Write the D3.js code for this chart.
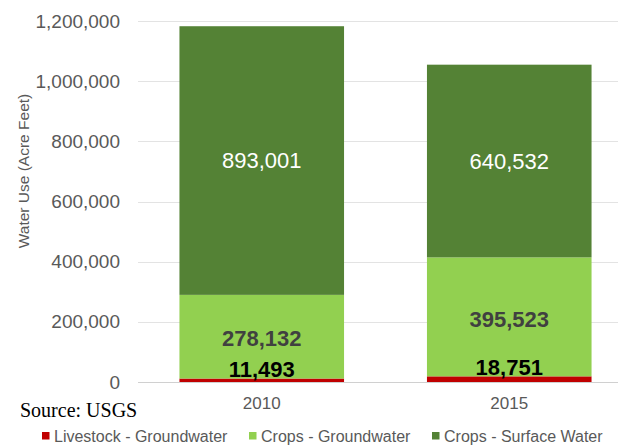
<!DOCTYPE html>
<html>
<head>
<meta charset="utf-8">
<script src="https://cdn.jsdelivr.net/npm/d3@7"></script>
<style>
  html, body { margin: 0; padding: 0; background: #fff; }
  svg { display: block; font-family: "Liberation Sans", Arial, sans-serif; }
</style>
</head>
<body>
<svg id="chart" width="618" height="447"></svg>
<script>
// data
const years = ['2010', '2015'];
const livestockGW = [11493, 18751];
const cropsGW = [278132, 395523];
const cropsSW = [893001, 640532];
const yTicks = [0, 200000, 400000, 600000, 800000, 1000000, 1200000];
const seriesNames = ['Livestock - Groundwater', 'Crops - Groundwater', 'Crops - Surface Water'];
const seriesColors = ['#C00000', '#92D050', '#548235'];

const width = 618, height = 447;
const svg = d3.select('#chart');

const rows = years.map((y, i) => ({
  year: y,
  livestock: livestockGW[i],
  cropsGW: cropsGW[i],
  cropsSW: cropsSW[i]
}));
const keys = ['livestock', 'cropsGW', 'cropsSW'];
const stacked = d3.stack().keys(keys)(rows);

const x = d3.scaleBand()
  .domain(years)
  .range([138, 633])
  .paddingInner(0.335)
  .paddingOuter(0.1675);

const y = d3.scaleLinear()
  .domain([0, 1200000])
  .range([382, 21]);

// gridlines
svg.append('g')
  .selectAll('line')
  .data(yTicks)
  .join('line')
  .attr('x1', 138)
  .attr('x2', width)
  .attr('y1', d => Math.round(y(d)) + 0.5)
  .attr('y2', d => Math.round(y(d)) + 0.5)
  .attr('stroke', d => d === 0 ? '#d0d0d0' : '#e3e3e3')
  .attr('stroke-width', 1.2);

// y tick labels
svg.append('g')
  .selectAll('text')
  .data(yTicks)
  .join('text')
  .attr('x', 120)
  .attr('y', d => y(d))
  .attr('dy', '0.35em')
  .attr('text-anchor', 'end')
  .attr('fill', '#595959')
  .style('font-size', '19px')
  .text(d => d3.format(',')(d));

// y axis title
svg.append('text')
  .attr('transform', 'translate(24,171) rotate(-90)')
  .attr('text-anchor', 'middle')
  .attr('dy', '0.35em')
  .attr('fill', '#595959')
  .style('font-size', '15.5px')
  .text('Water Use (Acre Feet)');

// bars
svg.append('g')
  .selectAll('g')
  .data(stacked)
  .join('g')
  .attr('fill', (d, i) => seriesColors[i])
  .selectAll('rect')
  .data(d => d)
  .join('rect')
  .attr('x', d => x(d.data.year))
  .attr('width', x.bandwidth())
  .attr('y', d => y(d[1]))
  .attr('height', d => y(d[0]) - y(d[1]));

// data labels: surface water (white, centred)
svg.append('g')
  .selectAll('text')
  .data(stacked[2])
  .join('text')
  .attr('x', d => x(d.data.year) + x.bandwidth() / 2)
  .attr('y', d => (y(d[0]) + y(d[1])) / 2)
  .attr('dy', '0.35em')
  .attr('text-anchor', 'middle')
  .attr('fill', '#ffffff')
  .style('font-size', '22px')
  .text(d => d3.format(',')(d.data.cropsSW));

// crops groundwater (dark grey bold)
svg.append('g')
  .selectAll('text')
  .data(stacked[1])
  .join('text')
  .attr('x', d => x(d.data.year) + x.bandwidth() / 2)
  .attr('y', d => (y(d[0]) + y(d[1])) / 2 + 2)
  .attr('dy', '0.35em')
  .attr('text-anchor', 'middle')
  .attr('fill', '#404040')
  .style('font-size', '22px')
  .style('font-weight', 'bold')
  .text(d => d3.format(',')(d.data.cropsGW));

// livestock (black bold, lifted above the thin red strip)
svg.append('g')
  .selectAll('text')
  .data(stacked[0])
  .join('text')
  .attr('x', d => x(d.data.year) + x.bandwidth() / 2)
  .attr('y', d => y(d[1]) - 9)
  .attr('dy', '0.35em')
  .attr('text-anchor', 'middle')
  .attr('fill', '#000000')
  .style('font-size', '22px')
  .style('font-weight', 'bold')
  .text(d => d3.format(',')(d.data.livestock));

// x labels
svg.append('g')
  .selectAll('text')
  .data(years)
  .join('text')
  .attr('x', d => x(d) + x.bandwidth() / 2)
  .attr('y', 409)
  .attr('text-anchor', 'middle')
  .attr('fill', '#595959')
  .style('font-size', '17px')
  .text(d => d);

// source note
svg.append('text')
  .attr('x', 20)
  .attr('y', 417)
  .attr('fill', '#000')
  .style('font-family', '"Liberation Serif", "Times New Roman", serif')
  .style('font-size', '20px')
  .text('Source: USGS');

// legend
const legendX = [42, 249, 432];
const legend = svg.append('g')
  .selectAll('g')
  .data(seriesNames)
  .join('g')
  .attr('transform', (d, i) => `translate(${legendX[i]},436)`);

legend.append('rect')
  .attr('x', 0)
  .attr('y', -4)
  .attr('width', 7.5)
  .attr('height', 7.5)
  .attr('fill', (d, i) => seriesColors[i]);

legend.append('text')
  .attr('x', 12)
  .attr('y', 5.5)
  .attr('fill', '#595959')
  .style('font-size', '16px')
  .text(d => d);
</script>
</body>
</html>
